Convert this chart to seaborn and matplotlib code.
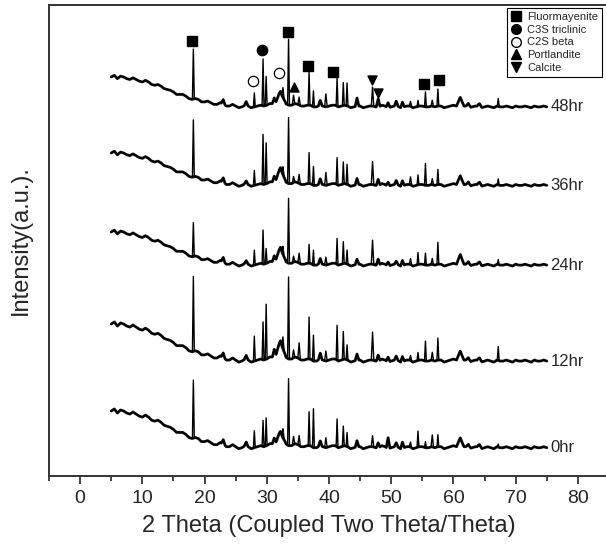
import matplotlib
matplotlib.use("Agg")
import matplotlib.pyplot as plt
from matplotlib.lines import Line2D
import numpy as np
import pandas as pd
import seaborn as sns

# probe / unghiuri
samples = ["0hr", "12hr", "24hr", "36hr", "48hr"]
start_level = [65, 152, 244, 323, 399]      # nivelul de start al fiecarei curbe
drop_scale = [1.02, 1.03, 0.92, 0.90, 0.83]

# fondul comun (cat coboara curba fata de start), din 0.5 in 0.5 grade, 5..75
theta_knots = np.arange(5, 75.01, 0.5)
drop_profile = [0, -2, 2, -1, 0, 2, 3, 1, 3, 5,
                6, 4, 6, 9, 10, 9, 11, 14, 15, 16,
                18, 21, 21, 21, 23, 26, 27, 26, 27, 30,
                30, 29, 31, 33, 33, 31, 32, 35, 35, 33,
                35, 37, 36, 34, 35, 37, 36, 35, 34, 35,
                34, 32, 32, 33, 31, 33, 32, 34, 34, 32,
                33, 35, 35, 34, 34, 36, 36, 34, 35, 36,
                35, 34, 34, 36, 35, 34, 35, 37, 36, 35,
                35, 37, 36, 35, 35, 36, 36, 34, 35, 37,
                36, 35, 35, 37, 36, 35, 35, 37, 36, 35,
                35, 36, 36, 35, 36, 35, 35, 37, 36, 35,
                34, 35, 34, 35, 35, 37, 36, 35, 35, 37,
                36, 35, 36, 37, 35, 36, 36, 35, 36, 37,
                35, 36, 36, 35, 36, 37, 35, 36, 36, 35,
                36]

# pozitii de varf si latimi
peak_pos = [18.2, 23.0, 26.7, 28.0, 29.4, 29.9, 31.2, 32.2, 32.6, 33.5, 34.3, 35.2, 36.8, 37.5,
            38.6, 39.5, 41.3, 42.3, 42.9, 44.5, 47.0, 47.9, 49.5, 50.8, 51.8, 53.1, 54.3, 55.5,
            56.6, 57.5, 61.1, 62.4, 64.2, 67.2]
peak_w = [0.15, 0.3, 0.3, 0.15, 0.15, 0.15, 0.3, 0.9, 0.2, 0.15, 0.2, 0.2, 0.15, 0.15,
          0.3, 0.2, 0.15, 0.15, 0.15, 0.3, 0.2, 0.3, 0.3, 0.3, 0.3, 0.2, 0.15, 0.15,
          0.2, 0.15, 0.6, 0.4, 0.4, 0.15]
h_0hr = [58, 4, 4, 17, 26, 28, 6, 12, 9, 67, 8, 10, 34, 39, 5, 10, 28, 20, 14, 6, 11, 5, 11, 4,
         6, 5, 16, 6, 12, 12, 8, 4, 3, 3]
h_12hr = [75, 4, 4, 25, 38, 55, 8, 16, 12, 82, 8, 16, 42, 26, 6, 10, 35, 28, 15, 6, 28, 6, 5, 4,
          5, 5, 8, 20, 8, 22, 8, 4, 3, 14]
h_24hr = [34, 4, 3, 15, 34, 15, 6, 14, 8, 65, 6, 10, 19, 15, 5, 8, 26, 22, 14, 5, 24, 6, 4, 3,
          5, 6, 12, 12, 6, 22, 9, 4, 3, 5]
h_36hr = [57, 4, 3, 15, 50, 41, 6, 14, 8, 66, 6, 9, 31, 19, 5, 13, 27, 22, 20, 6, 23, 6, 4, 4,
          5, 8, 10, 22, 6, 15, 8, 4, 3, 6]
h_48hr = [50, 4, 4, 14, 47, 29, 6, 12, 10, 66, 9, 8, 33, 16, 5, 13, 28, 23, 23, 8, 19, 8, 5, 5,
          5, 5, 6, 15, 6, 17, 8, 4, 3, 8]
heights = [h_0hr, h_12hr, h_24hr, h_36hr, h_48hr]

# markeri de faza pe curba 48hr (theta, nivel)
phase_names = ["Fluormayenite", "C3S triclinic", "C2S beta", "Portlandite", "Calcite"]
fluor_x = [18.0, 33.4, 36.7, 40.7, 55.3, 57.6]
fluor_y = [435, 444, 410, 404, 392, 396]
c3s_x = [29.3]
c3s_y = [426]
c2s_x = [27.8, 32.0]
c2s_y = [395, 403]
port_x = [34.4]
port_y = [389]
calc_x = [46.9, 47.9]
calc_y = [396, 383]

# construim curbele: fond gros (zgomot) + varfuri subtiri
rows, band_rows = [], []
for name, s0, sc, hh in zip(samples, start_level, drop_scale, heights):
    edges = []
    for p, w in zip(peak_pos, peak_w):
        edges += [p - w, p, p + w]
    th = np.unique(np.concatenate([theta_knots, edges]))
    base = s0 - sc * np.interp(th, theta_knots, drop_profile)
    y = base.copy()
    yb = base.copy()
    for p, w, h in zip(peak_pos, peak_w, hh):
        tri = h * np.clip(1 - np.abs(th - p) / w, 0, None)
        y = y + tri
        if w >= 0.3:
            yb = yb + tri
    rows.append(pd.DataFrame({"theta": th, "intensity": y, "sample": name}))
    band_rows.append(pd.DataFrame({"theta": th, "intensity": yb, "sample": name}))
df = pd.concat(rows, ignore_index=True)
df_band = pd.concat(band_rows, ignore_index=True)

sns.set_style("ticks")
plt.rcParams['font.family'] = ['Liberation Sans', 'DejaVu Sans']

fig = plt.figure(figsize=(6.06, 5.54), dpi=100)
ax = fig.add_axes([49 / 606, 78 / 554, 560 / 606, 471 / 554])

sns.lineplot(data=df_band, x="theta", y="intensity", units="sample", estimator=None,
             color="#111111", linewidth=2.0, ax=ax, legend=False)
sns.lineplot(data=df, x="theta", y="intensity", units="sample", estimator=None,
             color="black", linewidth=1.0, ax=ax, legend=False)

ax.scatter(fluor_x, fluor_y, marker="s", s=42, color="black", zorder=5)
ax.scatter(c3s_x, c3s_y, marker="o", s=55, color="black", zorder=5)
ax.scatter(c2s_x, c2s_y, marker="o", s=55, facecolor="white", edgecolor="black",
           linewidth=0.9, zorder=5)
ax.scatter(port_x, port_y, marker="^", s=42, color="black", zorder=5)
ax.scatter(calc_x, calc_y, marker="v", s=42, color="black", zorder=5)

for name, s0, sc in zip(samples, start_level, drop_scale):
    ax.text(75.6, s0 - sc * drop_profile[-1], name, fontsize=12, va="center", ha="left")

handles = [
    Line2D([], [], ls="none", marker="s", color="black", markersize=6.5),
    Line2D([], [], ls="none", marker="o", color="black", markersize=7),
    Line2D([], [], ls="none", marker="o", markerfacecolor="white",
           markeredgecolor="black", markersize=7),
    Line2D([], [], ls="none", marker="^", color="black", markersize=7),
    Line2D([], [], ls="none", marker="v", color="black", markersize=7),
]
leg = ax.legend(handles, phase_names, loc="upper right", bbox_to_anchor=(602 / 606, 1 - 8 / 554),
                bbox_transform=fig.transFigure, fontsize=8, frameon=True, fancybox=False,
                framealpha=1, edgecolor="black", labelspacing=0.25, handlelength=1.0,
                handletextpad=0.5, borderpad=0.35, borderaxespad=0)
leg.get_frame().set_linewidth(0.8)

ax.set_xlim(-5, 85)
ax.set_ylim(0, 471)
ax.set_xticks(range(0, 81, 10))
ax.set_xticks(range(-5, 86, 10), minor=True)
ax.set_yticks([])
ax.tick_params(axis="x", which="major", length=6, width=1.2, labelsize=14, pad=4)
ax.tick_params(axis="x", which="minor", length=3.5, width=1.2)
for sp in ax.spines.values():
    sp.set_linewidth(1.4)
    sp.set_color("#333333")

ax.set_xlabel("2 Theta (Coupled Two Theta/Theta)", fontsize=17, labelpad=6)
ax.set_ylabel("Intensity(a.u.).", fontsize=17, labelpad=12)

fig.savefig("out.png", dpi=100)
